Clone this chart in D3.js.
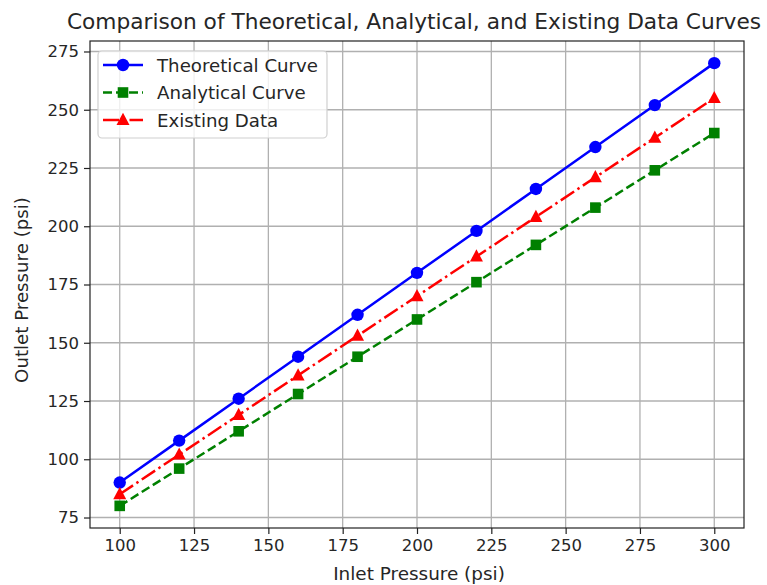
<!DOCTYPE html>
<html><head><meta charset="utf-8">
<script src="https://cdn.jsdelivr.net/npm/d3@7"></script>
<style>body{margin:0;background:#fff;} text{font-family:"DejaVu Sans",sans-serif;fill:#262626;}</style>
</head><body>
<svg id="c" width="767" height="585"></svg>
<script>
const inlet = [100,120,140,160,180,200,220,240,260,280,300];
const theoretical = [90,108,126,144,162,180,198,216,234,252,270];
const analytical = [80,96,112,128,144,160,176,192,208,224,240];
const existing = [85,102,119,136,153,170,187,204,221,238,255];
const xTicks = [100,125,150,175,200,225,250,275,300];
const yTicks = [75,100,125,150,175,200,225,250,275];
const seriesNames = ["Theoretical Curve","Analytical Curve","Existing Data"];

const svg = d3.select("#c");
const L=90,R=744,T=41,B=528;
const x = d3.scaleLinear().domain([90,310]).range([L,R]);
const y = d3.scaleLinear().domain([70.5,279.5]).range([B,T]);
const fs = 16.5, lfs = 18.2;

// grid
const g = svg.append("g");
g.selectAll(".gx").data(xTicks).enter().append("line")
 .attr("x1",d=>x(d)).attr("x2",d=>x(d)).attr("y1",T).attr("y2",B)
 .attr("stroke","#b0b0b0").attr("stroke-width",1.3);
g.selectAll(".gy").data(yTicks).enter().append("line")
 .attr("y1",d=>y(d)).attr("y2",d=>y(d)).attr("x1",L).attr("x2",R)
 .attr("stroke","#b0b0b0").attr("stroke-width",1.3);

// axes
const xa = svg.append("g").attr("transform",`translate(0,${B})`)
 .call(d3.axisBottom(x).tickValues(xTicks).tickSize(6).tickPadding(5).tickSizeOuter(0));
const ya = svg.append("g").attr("transform",`translate(${L},0)`)
 .call(d3.axisLeft(y).tickValues(yTicks).tickSize(6).tickPadding(5).tickSizeOuter(0));
[xa,ya].forEach(a=>{
  a.select(".domain").remove();
  a.selectAll("line").attr("stroke","#222").attr("stroke-width",1.2);
  a.selectAll("text").attr("font-size",fs).attr("font-family","DejaVu Sans").attr("fill","#262626");
});
svg.append("rect").attr("x",L).attr("y",T).attr("width",R-L).attr("height",B-T)
 .attr("fill","none").attr("stroke","#222").attr("stroke-width",1.2);

// series
const series = [
 {name:seriesNames[0], vals:theoretical, color:"#0000ff", dash:null, marker:"circle"},
 {name:seriesNames[1], vals:analytical, color:"#008000", dash:"9,4", marker:"square"},
 {name:seriesNames[2], vals:existing, color:"#ff0000", dash:"16,4,2.5,4", marker:"triangle"}
];
const line = d3.line().x(d=>x(d[0])).y(d=>y(d[1]));
function drawMarker(sel, type, color, cx, cy){
  if(type==="circle") sel.append("circle").attr("cx",cx).attr("cy",cy).attr("r",6.2).attr("fill",color);
  else if(type==="square") sel.append("rect").attr("x",cx-5.3).attr("y",cy-5.3).attr("width",10.6).attr("height",10.6).attr("fill",color);
  else sel.append("path").attr("d",`M${cx},${cy-7.2}L${cx+6.5},${cy+5}L${cx-6.5},${cy+5}Z`).attr("fill",color);
}
series.forEach(s=>{
  const pts = inlet.map((v,i)=>[v,s.vals[i]]);
  svg.append("path").attr("d",line(pts)).attr("fill","none").attr("stroke",s.color)
   .attr("stroke-width",2.5).attr("stroke-dasharray",s.dash);
  const mg = svg.append("g");
  pts.forEach(p=>drawMarker(mg,s.marker,s.color,x(p[0]),y(p[1])));
});

// legend
const lg = svg.append("g");
lg.append("rect").attr("x",98).attr("y",51).attr("width",229).attr("height",87).attr("rx",4)
 .attr("fill","rgba(255,255,255,0.8)").attr("stroke","#d0d0d0").attr("stroke-width",1.2);
series.forEach((s,i)=>{
  const cy = 65 + i*27.5;
  lg.append("line").attr("x1",103).attr("x2",143).attr("y1",cy).attr("y2",cy)
   .attr("stroke",s.color).attr("stroke-width",2.5).attr("stroke-dasharray",s.dash);
  drawMarker(lg,s.marker,s.color,123,cy);
  lg.append("text").attr("x",157).attr("y",cy).attr("dy","0.36em").attr("font-size",lfs).text(s.name);
});

// title & labels
svg.append("text").attr("x",414).attr("y",29).attr("text-anchor","middle").attr("font-size",21.7)
 .text("Comparison of Theoretical, Analytical, and Existing Data Curves");
svg.append("text").attr("x",419).attr("y",580).attr("text-anchor","middle").attr("font-size",18.4)
 .text("Inlet Pressure (psi)");
svg.append("text").attr("transform","translate(28,290) rotate(-90)").attr("text-anchor","middle").attr("font-size",18.2)
 .text("Outlet Pressure (psi)");
</script>
</body></html>
